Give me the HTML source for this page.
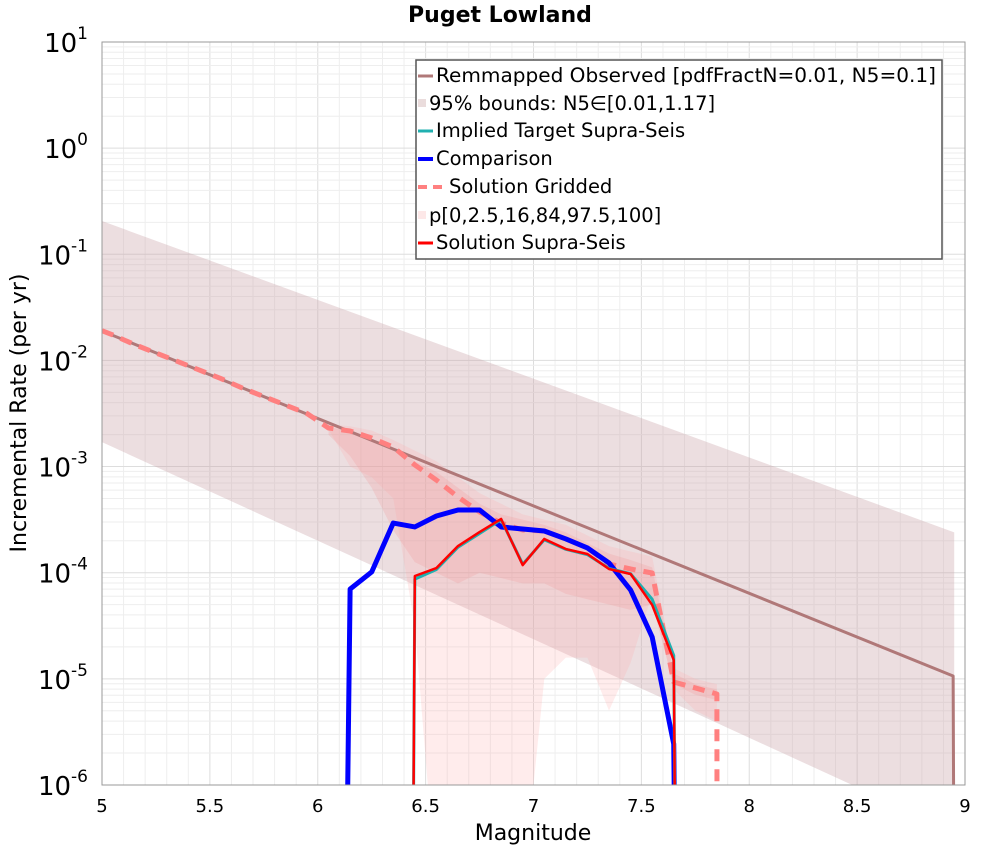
<!DOCTYPE html>
<html><head><meta charset="utf-8">
<style>
html,body{margin:0;padding:0;background:#fff;width:1000px;height:850px;overflow:hidden;}
svg{display:block;}
svg text{font-family:"DejaVu Sans","Liberation Sans",sans-serif;}
</style></head>
<body>
<svg id="chart" width="1000" height="850" xmlns="http://www.w3.org/2000/svg">
<defs><clipPath id="clip"><rect x="102" y="42" width="863" height="743"/></clipPath></defs>
<rect x="0" y="0" width="1000" height="850" fill="#fff"/>
<text x="500" y="22" text-anchor="middle" font-size="22" font-weight="bold">Puget Lowland</text>
<g id="grid"></g>
<g id="marks" clip-path="url(#clip)"></g>
<rect x="102" y="42" width="863" height="743" fill="none" stroke="#999" stroke-width="1"/>
<g id="axes"></g>
<text x="533" y="840" text-anchor="middle" font-size="22">Magnitude</text>
<text transform="translate(26,413) rotate(-90)" text-anchor="middle" font-size="22">Incremental Rate (per yr)</text>
<g>
<rect x="416" y="60" width="526" height="199" fill="#fff" stroke="#555" stroke-width="1.5"/>
<g font-size="19.5">
<line x1="418" y1="76" x2="433" y2="76" stroke="#b07878" stroke-width="3"/><text x="436" y="82" textLength="500" lengthAdjust="spacingAndGlyphs">Remmapped Observed [pdfFractN=0.01, N5=0.1]</text>
<rect x="418" y="99" width="8" height="8" fill="#eadcdc"/><text x="429" y="110">95% bounds: N5∈[0.01,1.17]</text>
<line x1="418" y1="131" x2="433" y2="131" stroke="#20b0b0" stroke-width="3"/><text x="436" y="137">Implied Target Supra-Seis</text>
<line x1="418" y1="159" x2="433" y2="159" stroke="#0000ff" stroke-width="4"/><text x="436" y="165">Comparison</text>
<line x1="418" y1="187" x2="446" y2="187" stroke="#ff8080" stroke-width="4" stroke-dasharray="9,6"/><text x="449" y="193">Solution Gridded</text>
<rect x="418" y="211" width="8" height="8" fill="#fde8e8"/><text x="429" y="222">p[0,2.5,16,84,97.5,100]</text>
<line x1="418" y1="243" x2="433" y2="243" stroke="#ff0000" stroke-width="3"/><text x="436" y="249">Solution Supra-Seis</text>
</g></g>
</svg>
<script>
// data (log10 rates)
const obsM=[5.0,8.945,8.95];
const obsLog=[-1.723,-4.973,-7.5];
const boundM=[5.0,8.95];
const boundHi=[-0.687,-3.62];
const boundLoM=[5.0,7.79,8.95];
const boundLo=[-2.77,-5.36,-6.44];
const compM=[6.13,6.15,6.25,6.35,6.45,6.55,6.65,6.75,6.85,6.95,7.05,7.15,7.25,7.35,7.45,7.55,7.65,7.66];
const compLog=[-7.5,-4.154,-3.993,-3.532,-3.569,-3.466,-3.409,-3.409,-3.569,-3.588,-3.607,-3.682,-3.767,-3.908,-4.163,-4.606,-5.614,-7.5];
const solM=[6.44,6.45,6.55,6.65,6.75,6.85,6.95,7.05,7.15,7.25,7.35,7.45,7.55,7.65,7.66];
const solLog=[-7.5,-4.031,-3.956,-3.749,-3.617,-3.494,-3.928,-3.682,-3.777,-3.824,-3.965,-4.012,-4.304,-4.823,-7.5];
const tgtLog=[-7.5,-4.06,-3.97,-3.76,-3.63,-3.50,-3.92,-3.69,-3.78,-3.83,-3.96,-4.01,-4.25,-4.78,-7.5];
const gridM=[5.0,5.05,5.15,5.25,5.35,5.45,5.55,5.65,5.75,5.85,5.95,6.05,6.15,6.25,6.35,6.45,6.55,6.65,6.75,6.85,6.95,7.05,7.15,7.25,7.35,7.45,7.55,7.65,7.75,7.85,7.851];
const gridLog=[-1.72,-1.76,-1.85,-1.93,-2.01,-2.09,-2.17,-2.26,-2.34,-2.42,-2.50,-2.637,-2.665,-2.731,-2.816,-2.985,-3.127,-3.287,-3.428,-3.532,-3.598,-3.607,-3.682,-3.767,-3.918,-3.965,-4.003,-5.030,-5.086,-5.143,-7.5];
const bandM=[6.05,6.15,6.25,6.35,6.45,6.55,6.65,6.75,6.85,6.95,7.05,7.15,7.25,7.35,7.45,7.55,7.65,7.75,7.85];
const p0Hi=[-2.60,-2.62,-2.66,-2.75,-2.85,-2.95,-3.1,-3.25,-3.35,-3.45,-3.5,-3.55,-3.65,-3.75,-3.8,-3.85,-4.9,-5.0,-5.05];
const p0Lo=[-2.65,-3.0,-3.1,-3.3,-4.5,-7,-7,-7,-7,-7,-5.0,-4.8,-4.8,-5.3,-4.85,-4.2,-5.1,-5.3,-5.4];
const p16Hi=[-2.63,-2.66,-2.75,-2.82,-2.95,-3.05,-3.2,-3.35,-3.45,-3.5,-3.55,-3.62,-3.72,-3.82,-3.88,-3.95,-4.95,-5.05,-5.1];
const p16Lo=[-2.7,-2.9,-3.2,-3.6,-3.9,-4.0,-4.1,-4.0,-4.05,-4.1,-4.1,-4.2,-4.25,-4.3,-4.35,-4.3,-5.05,-5.15,-5.2];
const xTicks=[5,5.5,6,6.5,7,7.5,8,8.5,9];
const xTickLabels=["5","5.5","6","6.5","7","7.5","8","8.5","9"];
const yTicks=[1,0,-1,-2,-3,-4,-5,-6];

const NS="http://www.w3.org/2000/svg";
const X=m=>102+(m-5)*215.75;
const Y=l=>42+(1-l)*106.14;
function el(t,a,p){const e=document.createElementNS(NS,t);for(const k in a)e.setAttribute(k,a[k]);p.appendChild(e);return e;}
const grid=document.getElementById('grid'),marks=document.getElementById('marks'),axes=document.getElementById('axes');
for(let i=0;i<=40;i++){const x=X(5+i*0.1);const g=el('line',{x1:x,x2:x,y1:42,y2:785,stroke:i%5==0?'#ddd':'#eee','stroke-width':1},grid);

}
for(let d=-6;d<1;d++)for(let k=1;k<10;k++){const y=Y(d+Math.log10(k));const g=el('line',{x1:102,x2:965,y1:y,y2:y,stroke:k==1?'#ddd':'#eee','stroke-width':1},grid);

}
function pts(ms,ls){return ms.map((m,i)=>X(m)+','+Y(ls[i])).join(' ');}
function band(ms,hi,lo,name,fill){
 const p=ms.map((m,i)=>X(m)+','+Y(hi[i])).concat(ms.map((m,i)=>[X(m),Y(lo[i])]).reverse().map(a=>a.join(',')));
 const e=el('polygon',{points:p.join(' '),fill:fill},marks);
 
 }
{const p=boundM.map((m,i)=>X(m)+','+Y(boundHi[i])).concat(boundLoM.map((m,i)=>X(m)+','+Y(boundLo[i])).reverse());
 p.splice(2,0,X(8.95)+','+Y(-7.5));
 const e=el('polygon',{points:p.join(' '),fill:'rgba(200,160,165,0.35)'},marks);
 
 }
band(bandM,p0Hi,p0Lo,'percentile-band-outer','rgba(255,170,170,0.22)');
band(bandM,p16Hi,p16Lo,'percentile-band-inner','rgba(240,150,150,0.25)');
function line(ms,ls,col,w,name,dash){const e=el('polyline',{points:pts(ms,ls),fill:'none',stroke:col,'stroke-width':w,'stroke-linejoin':'round'},marks);
 if(dash)e.setAttribute('stroke-dasharray',dash);
 
 }
line(obsM,obsLog,'#b07878',3,'observed-line');
line(gridM,gridLog,'#ff8080',5,'solution-gridded-line','12,8');
line(compM,compLog,'#0000ff',5,'comparison-line');
line(solM,tgtLog,'#20b0b0',3,'implied-target-line');
line(solM,solLog,'#ff0000',2.5,'solution-supra-line');
xTicks.forEach((t,i)=>{const e=el('text',{x:X(t),y:812,'text-anchor':'middle','font-size':18},axes);e.textContent=xTickLabels[i];
 
 });
yTicks.forEach(t=>{const e=el('text',{x:88,y:Y(t)+10,'text-anchor':'end','font-size':26},axes);
 
 
 const a=el('tspan',{},e);a.textContent='10';const b=el('tspan',{dy:-13,'font-size':17},e);b.textContent=String(t);});
</script>
</body></html>
